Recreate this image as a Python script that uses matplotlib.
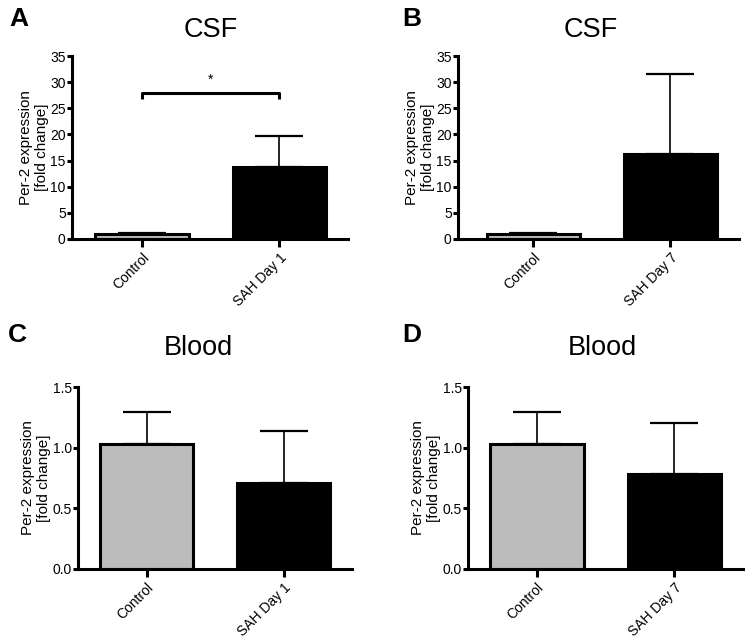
import matplotlib
matplotlib.use("Agg")
import matplotlib.pyplot as plt

plt.rcParams['font.family'] = ['Liberation Sans', 'DejaVu Sans']

# ---- data ----
cats_d1 = ["Control", "SAH Day 1"]
cats_d7 = ["Control", "SAH Day 7"]
csf_d1_mean = [1.0, 13.8]
csf_d1_err = [0.2, 5.9]
csf_d7_mean = [1.0, 16.3]
csf_d7_err = [0.2, 15.3]
blood_d1_mean = [1.03, 0.71]
blood_d1_err = [0.26, 0.43]
blood_d7_mean = [1.03, 0.78]
blood_d7_err = [0.26, 0.42]
csf_ticks = [0, 5, 10, 15, 20, 25, 30, 35]
blood_ticks = [0.0, 0.5, 1.0, 1.5]
blood_ticklabels = ["0.0", "0.5", "1.0", "1.5"]
sig_y = 27.9
sig_leg = 1.1
sig_label = "*"

W, H = 751, 642
fig = plt.figure(figsize=(W / 100, H / 100), dpi=100)

colors = ["#bcbcbc", "#000000"]
LW = 2.2


def px_axes(l, r, b, t):
    return fig.add_axes([l / W, 1 - b / H, (r - l) / W, (b - t) / H])


def panel(ax, cats, means, errs, yticks, yticklabels, ymax, xleft):
    x = list(range(len(cats)))
    ax.errorbar(x, means, yerr=[[0] * len(means), errs], fmt='none',
                ecolor='black', elinewidth=1.2, capsize=17, capthick=1.6, zorder=1)
    ax.bar(x, means, width=0.68, color=colors, edgecolor='black',
           linewidth=LW, zorder=2)
    ax.set_xlim(xleft, 1.5)
    ax.set_ylim(0, ymax)
    ax.set_yticks(yticks)
    ax.set_yticklabels(yticklabels)
    ax.set_xticks(x)
    ax.set_xticklabels(cats, rotation=45, ha='right', va='top',
                       rotation_mode='anchor')
    for s in ['top', 'right']:
        ax.spines[s].set_visible(False)
    for s in ['left', 'bottom']:
        ax.spines[s].set_linewidth(LW)
    ax.tick_params(axis='y', length=3.5, width=LW, labelsize=10, pad=1)
    ax.tick_params(axis='x', length=6, width=LW, labelsize=10, pad=2)
    ax.set_ylabel("Per-2 expression\n[fold change]", fontsize=11,
                  labelpad=1, linespacing=1.15)


axA = px_axes(72, 348, 239, 56)
panel(axA, cats_d1, csf_d1_mean, csf_d1_err, csf_ticks,
      [str(t) for t in csf_ticks], 35, -0.51)
axA.plot([0, 0, 1, 1], [sig_y - sig_leg, sig_y, sig_y, sig_y - sig_leg],
         color='black', lw=LW, solid_capstyle='butt')
axA.text(0.5, sig_y + 1.3, sig_label, ha='center', va='bottom', fontsize=10)

axB = px_axes(458, 739, 239, 56)
panel(axB, cats_d7, csf_d7_mean, csf_d7_err, csf_ticks,
      [str(t) for t in csf_ticks], 35, -0.55)

axC = px_axes(78, 352, 569, 387)
panel(axC, cats_d1, blood_d1_mean, blood_d1_err, blood_ticks,
      blood_ticklabels, 1.5, -0.5)

axD = px_axes(468, 743, 569, 387)
panel(axD, cats_d7, blood_d7_mean, blood_d7_err, blood_ticks,
      blood_ticklabels, 1.5, -0.5)

# titles
fig.text(211 / W, 1 - 30 / H, "CSF", ha='center', va='center', fontsize=19.5)
fig.text(591 / W, 1 - 30 / H, "CSF", ha='center', va='center', fontsize=19.5)
fig.text(198 / W, 1 - 348 / H, "Blood", ha='center', va='center', fontsize=19.5)
fig.text(602 / W, 1 - 348 / H, "Blood", ha='center', va='center', fontsize=19.5)

# panel letters
for lab, x, y in [("A", 9, 19), ("B", 402, 19), ("C", 8, 335), ("D", 402, 335)]:
    fig.text(x / W, 1 - y / H, lab, ha='left', va='center', fontsize=19,
             fontweight='bold')

fig.savefig("out.png", dpi=100, facecolor='white')
